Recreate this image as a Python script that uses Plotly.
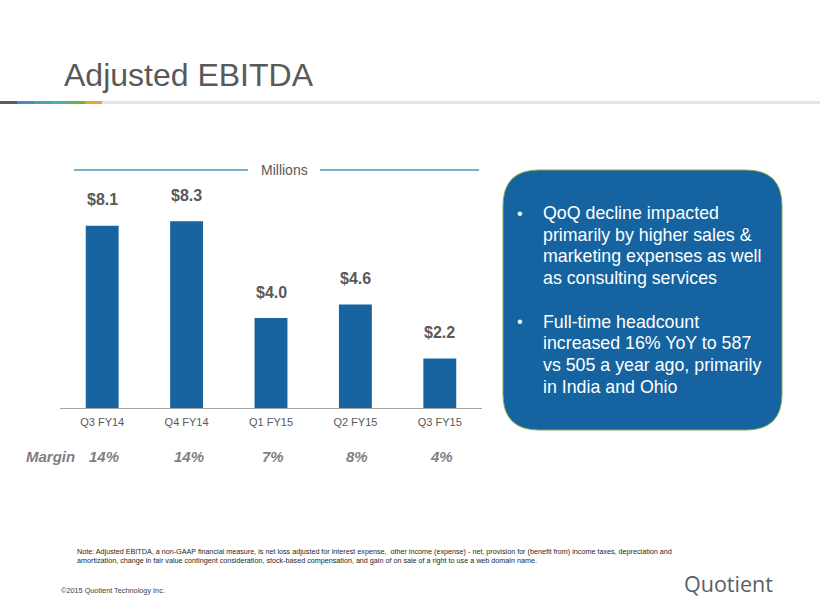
import plotly.graph_objects as go

# chart data
quarters = ["Q3 FY14", "Q4 FY14", "Q1 FY15", "Q2 FY15", "Q3 FY15"]
ebitda = [8.1, 8.3, 4.0, 4.6, 2.2]
value_labels = ["$8.1", "$8.3", "$4.0", "$4.6", "$2.2"]
margins = ["14%", "14%", "7%", "8%", "4%"]

bullets = [
    ["QoQ decline impacted", "primarily by higher sales &", "marketing expenses as well", "as consulting services"],
    ["Full-time headcount", "increased 16% YoY to 587", "vs 505 a year ago, primarily", "in India and Ohio"],
]

note = ("Note: Adjusted EBITDA, a non-GAAP financial measure, is net loss adjusted for interest expense,  other income (expense) - net, "
        "provision for (benefit from) income taxes, depreciation and<br>amortization, change in fair value contingent consideration, "
        "stock-based compensation, and gain of on sale of a right to use a web domain name.")

W, H = 820, 615
BLUE = "#1764A0"
GREY = "#595959"
FONT = "Liberation Sans, Arial, sans-serif"


def px(x):
    return x / W


def py(y):
    return 1 - y / H


def text_at(x, y, text, size, color, anchor="left", family=FONT, **kw):
    return dict(x=px(x), y=py(y), xref="paper", yref="paper", xanchor=anchor, yanchor="middle",
                text=text, showarrow=False, font=dict(size=size, color=color, family=family), **kw)


fig = go.Figure()
fig.add_trace(go.Bar(x=quarters, y=ebitda, marker=dict(color=BLUE, line=dict(width=0)),
                     hoverinfo="x+y"))

annotations = []
for q, v, lab in zip(quarters, ebitda, value_labels):
    annotations.append(dict(x=q, y=v, xref="x", yref="y", text="<b>" + lab + "</b>", showarrow=False,
                            xanchor="center", yanchor="middle", yshift=26,
                            font=dict(size=16, color=GREY, family=FONT)))

for q, m in zip(quarters, margins):
    annotations.append(dict(x=q, y=py(456), xref="x", yref="paper", text="<b><i>" + m + "</i></b>",
                            xanchor="center", yanchor="middle", showarrow=False, xshift=2,
                            font=dict(size=15, color="#7F7F7F", family=FONT)))
annotations.append(text_at(24, 456, "<b><i>Margin</i></b>", 15, "#7F7F7F"))

# title and header texts
annotations.append(text_at(62, 75, "Adjusted EBITDA", 32, GREY))
annotations.append(text_at(284, 170, "Millions", 14, GREY, anchor="center"))

# callout box text, one line at a time
for para, y_start in zip(bullets, [213.3, 321.7]):
    annotations.append(text_at(515, y_start, "•", 16, "white"))
    for i, line in enumerate(para):
        annotations.append(text_at(541, y_start + i * 21.6, line, 17.8, "white"))

# footnote, copyright, logo
annotations.append(text_at(75, 556, note, 7.2, "#262626", align="left"))
annotations.append(text_at(59, 590, "©2015 Quotient Technology Inc.", 7.3, "#404040"))
annotations.append(text_at(682, 583, "Quotient", 21.5, "#5A5F66", family="Open Sans, sans-serif"))

shapes = []
# header rule with coloured segments
shapes.append(dict(type="rect", xref="paper", yref="paper", x0=px(102), x1=1,
                   y0=py(104), y1=py(101), fillcolor="#E2E4EA", line=dict(width=0)))
seg_colors = ["#575C63", "#4A88C6", "#4A9FBA", "#4AB39E", "#6BB24A", "#F0A134"]
for i, c in enumerate(seg_colors):
    shapes.append(dict(type="rect", xref="paper", yref="paper", x0=px(i * 17), x1=px((i + 1) * 17),
                       y0=py(104), y1=py(101), fillcolor=c, line=dict(width=0)))

# "Millions" rules
for x0, x1 in [(74, 248), (320, 479)]:
    shapes.append(dict(type="line", xref="paper", yref="paper", x0=px(x0), x1=px(x1),
                       y0=py(170), y1=py(170), line=dict(color="#4E95B5", width=1.3)))

# rounded callout box
bx0, bx1, by0, by1, r = 503, 782, 170, 430, 36
rx, ry = r / W, r / H
X0, X1, Y0, Y1 = px(bx0), px(bx1), py(by1), py(by0)
path = (f"M {X0 + rx},{Y1} L {X1 - rx},{Y1} Q {X1},{Y1} {X1},{Y1 - ry} "
        f"L {X1},{Y0 + ry} Q {X1},{Y0} {X1 - rx},{Y0} "
        f"L {X0 + rx},{Y0} Q {X0},{Y0} {X0},{Y0 + ry} "
        f"L {X0},{Y1 - ry} Q {X0},{Y1} {X0 + rx},{Y1} Z")
shapes.append(dict(type="path", xref="paper", yref="paper", path=path, fillcolor="#1563A0",
                   line=dict(color="#8FAA4E", width=1), layer="below"))

fig.update_layout(
    width=W, height=H,
    margin=dict(l=0, r=0, t=0, b=0),
    paper_bgcolor="white", plot_bgcolor="white",
    showlegend=False,
    bargap=0.61,
    font=dict(family=FONT, color=GREY),
    xaxis=dict(domain=[px(60), px(482)], type="category", showline=True, linecolor="#A6A6A6",
               linewidth=1, showgrid=False, zeroline=False, ticks="", ticklabelstandoff=4,
               tickfont=dict(size=11, color=GREY, family=FONT), fixedrange=True),
    yaxis=dict(domain=[py(408), py(183)], range=[0, 10], visible=False, showgrid=False,
               zeroline=False, fixedrange=True),
    annotations=annotations,
    shapes=shapes,
)

fig.write_html("out.html", config={"displayModeBar": False},
               post_script="document.body.style.margin = '0';")
